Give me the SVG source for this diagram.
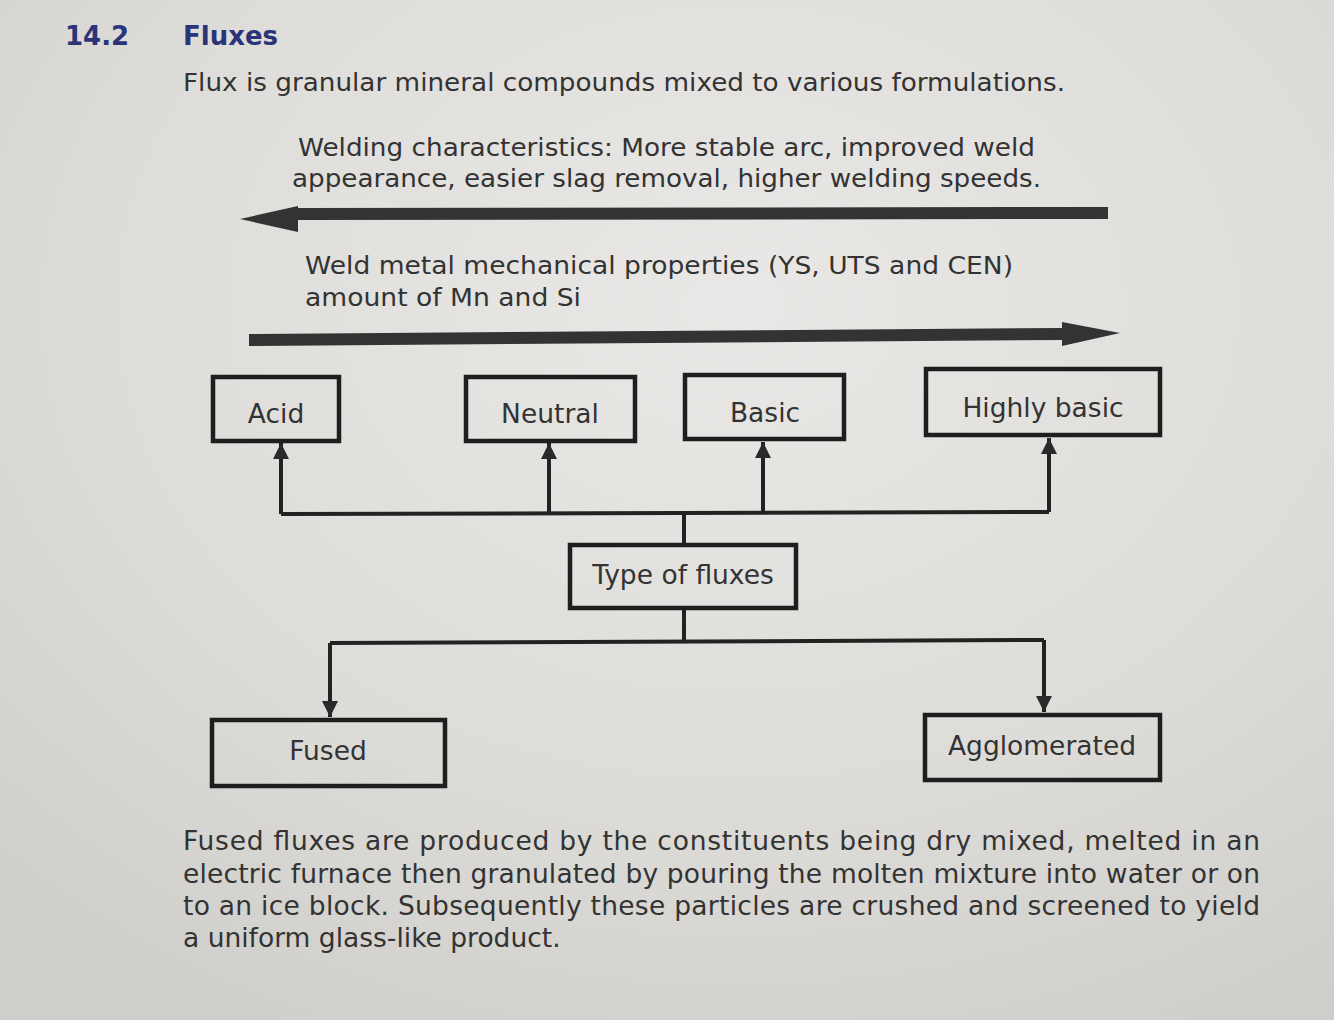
<svg xmlns="http://www.w3.org/2000/svg" width="1334" height="1020" viewBox="0 0 1334 1020">
<defs>
<radialGradient id="bg" cx="0.55" cy="0.3" r="0.8">
<stop offset="0" stop-color="#e9e8e6"/>
<stop offset="0.6" stop-color="#dddcd9"/>
<stop offset="1" stop-color="#cfcecb"/>
</radialGradient>
<marker id="ah" viewBox="0 0 16 24" refX="16" refY="12" markerWidth="16" markerHeight="24" markerUnits="userSpaceOnUse" orient="auto">
<path d="M0,4 L16,12 L0,20 Z" fill="#2a2a2a"/>
</marker>
<style>
.t{font-family:"DejaVu Sans","Verdana",sans-serif;fill:#333;}
.h{font-family:"DejaVu Sans","Verdana",sans-serif;fill:#2b3478;font-weight:bold;font-size:26px;}
.p{font-size:24px;}
.b{font-size:26.5px;}
.q{font-size:26.5px;}
.box{fill:none;stroke:#1e1e1e;stroke-width:4.5;}
.c{fill:none;stroke:#222;stroke-width:4;}
.big{fill:#333;}
</style>
</defs>
<rect width="1334" height="1020" fill="url(#bg)"/>
<text class="h" x="65" y="45">14.2</text>
<text class="h" x="183" y="45">Fluxes</text>
<text class="t p" x="183" y="91" textLength="882" lengthAdjust="spacingAndGlyphs">Flux is granular mineral compounds mixed to various formulations.</text>
<text class="t p" x="298" y="156" textLength="737" lengthAdjust="spacingAndGlyphs">Welding characteristics: More stable arc, improved weld</text>
<text class="t p" x="292" y="187" textLength="749" lengthAdjust="spacingAndGlyphs">appearance, easier slag removal, higher welding speeds.</text>
<g id="arrow-left">
<path class="big" d="M1108,207 L298,208 L298,206 L240,219 L298,232 L298,220 L1108,219 Z"/>
</g>
<text class="t p" x="305" y="274" textLength="708" lengthAdjust="spacingAndGlyphs">Weld metal mechanical properties (YS, UTS and CEN)</text>
<text class="t p" x="305" y="306" textLength="276" lengthAdjust="spacingAndGlyphs">amount of Mn and Si</text>
<g id="arrow-right">
<path class="big" d="M249,334 L1062,328 L1062,322 L1120,333 L1062,346 L1062,340 L249,346 Z"/>
</g>
<g id="connectors">
<path class="c" d="M281,514 L1049,512"/>
<path class="c" d="M281,514 L281,443" marker-end="url(#ah)"/>
<path class="c" d="M549,514 L549,443" marker-end="url(#ah)"/>
<path class="c" d="M763,513 L763,442" marker-end="url(#ah)"/>
<path class="c" d="M1049,512 L1049,438" marker-end="url(#ah)"/>
<path class="c" d="M684,513 L684,544"/>
<path class="c" d="M684,608 L684,643"/>
<path class="c" d="M330,643 L1044,640"/>
<path class="c" d="M330,643 L330,717" marker-end="url(#ah)"/>
<path class="c" d="M1044,640 L1044,712" marker-end="url(#ah)"/>
</g>
<g id="acid"><rect class="box" x="213" y="377" width="126" height="64"/><text class="t b" x="276" y="423" text-anchor="middle">Acid</text></g>
<g id="neutral"><rect class="box" x="466" y="377" width="169" height="64"/><text class="t b" x="550" y="423" text-anchor="middle">Neutral</text></g>
<g id="basic"><rect class="box" x="685" y="375" width="159" height="64"/><text class="t b" x="765" y="422" text-anchor="middle">Basic</text></g>
<g id="highly-basic"><rect class="box" x="926" y="369" width="234" height="66"/><text class="t b" x="1043" y="417" text-anchor="middle">Highly basic</text></g>
<g id="type-of-fluxes"><rect class="box" x="570" y="545" width="226" height="63"/><text class="t b" x="683" y="584" text-anchor="middle">Type of fluxes</text></g>
<g id="fused"><rect class="box" x="212" y="720" width="233" height="66"/><text class="t b" x="328" y="760" text-anchor="middle">Fused</text></g>
<g id="agglomerated"><rect class="box" x="925" y="715" width="235" height="65"/><text class="t b" x="1042" y="755" text-anchor="middle">Agglomerated</text></g>
<text class="t q" x="183" y="850" textLength="1077" lengthAdjust="spacing">Fused fluxes are produced by the constituents being dry mixed, melted in an</text>
<text class="t q" x="183" y="883" textLength="1077" lengthAdjust="spacing">electric furnace then granulated by pouring the molten mixture into water or on</text>
<text class="t q" x="183" y="915" textLength="1077" lengthAdjust="spacing">to an ice block. Subsequently these particles are crushed and screened to yield</text>
<text class="t q" x="183" y="947">a uniform glass-like product.</text>
</svg>
